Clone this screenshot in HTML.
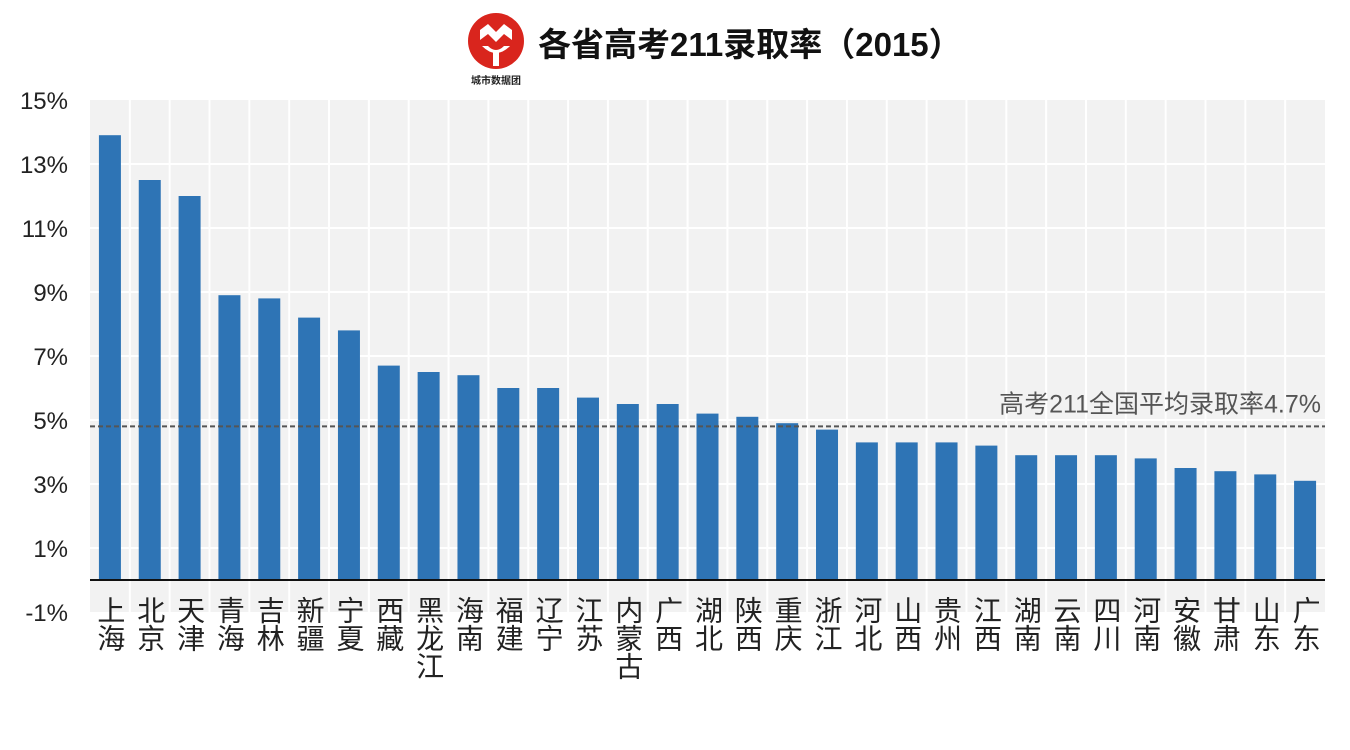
<!DOCTYPE html>
<html><head><meta charset="utf-8"><style>
body{margin:0;width:1350px;height:750px;background:#fff;overflow:hidden;font-family:"Liberation Sans","Noto Sans CJK SC",sans-serif}
</style></head><body>
<svg width="1350" height="750" style="position:absolute;left:0;top:0">
<g>
<circle cx="496" cy="41" r="28" fill="#d9251d"/>
<path d="M480 30 L488 24 L496 32 L504 24 L512 30 L512 40 L504 34 L496 42 L488 34 L480 40 Z" fill="#fff"/>
<path d="M482 46 Q496 60 510 46 L504 46 Q496 54 488 46 Z" fill="#fff"/>
<rect x="493" y="52" width="6" height="14" fill="#fff"/>
<text x="496" y="84" font-size="10" font-weight="bold" text-anchor="middle" fill="#222">城市数据团</text>
</g>
<text x="538" y="56" font-size="33" font-weight="bold" fill="#111">各省高考211录取率（2015）</text>
<rect x="90" y="100" width="1235" height="512" fill="#f2f2f2"/>
<g id="grid"></g><g id="bars"></g><g id="yaxis"></g><g id="xaxis"></g><g id="avg"></g>
</svg>
<script>
const categories=["上海","北京","天津","青海","吉林","新疆","宁夏","西藏","黑龙江","海南","福建","辽宁","江苏","内蒙古","广西","湖北","陕西","重庆","浙江","河北","山西","贵州","江西","湖南","云南","四川","河南","安徽","甘肃","山东","广东"];
const rates=[13.9,12.5,12.0,8.9,8.8,8.2,7.8,6.7,6.5,6.4,6.0,6.0,5.7,5.5,5.5,5.2,5.1,4.9,4.7,4.3,4.3,4.3,4.2,3.9,3.9,3.9,3.8,3.5,3.4,3.3,3.1];
const yTicks=[-1,1,3,5,7,9,11,13,15];
const yTickLabels=["-1%","1%","3%","5%","7%","9%","11%","13%","15%"];
const avgValue=4.8;
const avgLabel="高考211全国平均录取率4.7%";
const NS="http://www.w3.org/2000/svg";
const X0=90,X1=1325,Y0=612,Y1=100,V0=-1,V1=15;
const y=v=>Y0-(v-V0)/(V1-V0)*(Y0-Y1);
const bw=(X1-X0)/categories.length;
const x=i=>X0+i*bw;
function mk(p,t,a){const e=document.createElementNS(NS,t);for(const k in a)e.setAttribute(k,a[k]);document.getElementById(p).appendChild(e);return e;}
yTicks.forEach((t,i)=>{
 if(t>V0&&t<V1){const l=mk('grid','line',{x1:X0,x2:X1,y1:y(t),y2:y(t),stroke:'#fff','stroke-width':2});
 
 }
 const tx=mk('yaxis','text',{x:68,y:y(t)+9,'font-size':24,'text-anchor':'end',fill:'#222'});
 tx.textContent=yTickLabels[i];
 
 
});
for(let i=1;i<categories.length;i++){const l=mk('grid','line',{x1:x(i),x2:x(i),y1:Y1,y2:Y0,stroke:'#fff','stroke-width':2});
 
 }
categories.forEach((c,i)=>{
 const r=mk('bars','rect',{x:x(i)+bw/2-11,y:y(rates[i]),width:22,height:y(0)-y(rates[i]),fill:'#2e74b5'});
 
 
 const t=mk('xaxis','text',{x:x(i)+bw/2,y:596,'font-size':28,fill:'#222',style:'writing-mode:vertical-rl;text-orientation:upright'});
 t.textContent=c;
 
 
});
const base=mk('xaxis','line',{x1:X0,x2:X1,y1:y(0),y2:y(0),stroke:'#111','stroke-width':2});


const al=mk('avg','line',{x1:X0,x2:X1,y1:y(avgValue),y2:y(avgValue),stroke:'#555','stroke-width':2,'stroke-dasharray':'5,3'});


const at=mk('avg','text',{x:1321,y:y(avgValue)-14,'font-size':25,'text-anchor':'end',fill:'#555'});
at.textContent=avgLabel;


</script>
</body></html>
